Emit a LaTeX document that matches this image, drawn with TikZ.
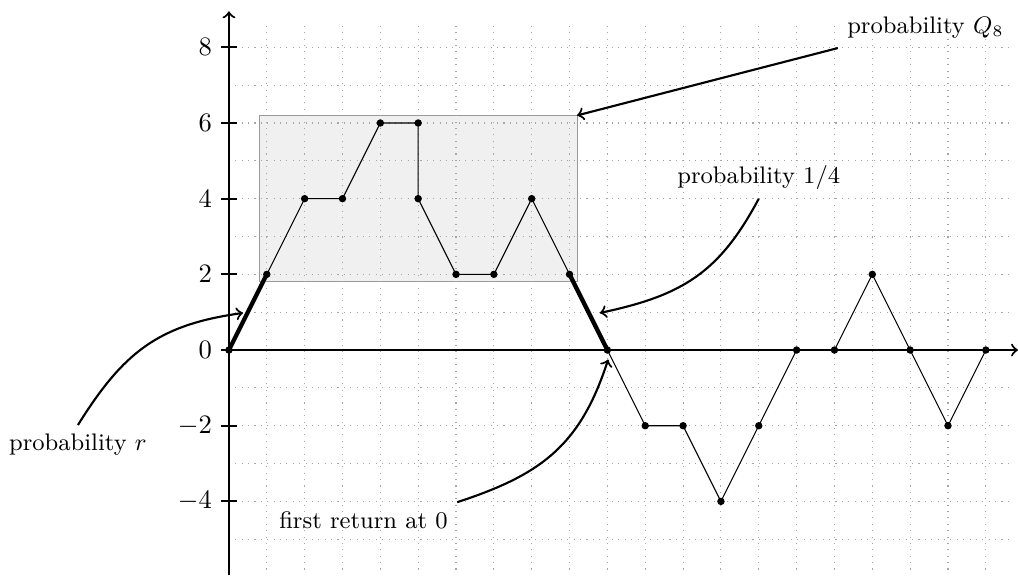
\documentclass[tikz,border=0pt]{standalone}
\begin{document}
\begin{tikzpicture}[x=0.5cm,y=0.5cm,
  lbl/.style={font=\small},
  ann/.style={->,thick},
  gridline/.style={gray!70,dotted,xstep=0.5cm,ystep=0.5cm},
  axisline/.style={->,thick},
  walk/.style={black,line width=0.4pt},
  boldwalk/.style={black,line width=1.6pt},
  shaded/.style={draw=gray!80,fill=gray!12}]
\useasboundingbox (-6.05,-5.95) rectangle (20.85,9.25);
% highlighted box
\draw[shaded] (0.8,1.8) rectangle (9.2,6.2);
\coordinate (boxne) at (9.2,6.2);
% grid
\draw[gridline] (0,-5.8) grid (20.6,8.6);
% axes
\coordinate (o) at (0,0);
\coordinate (xend) at (20.85,0);
\coordinate (ybot) at (0,-5.95);
\coordinate (yend) at (0,8.95);
\draw[axisline] (o) -- (xend);
\draw[axisline] (ybot) -- (yend);
\foreach \y in {-4,-2,0,2,4,6,8}{
  \draw[thick] (-0.2,\y) -- (0.2,\y);
  \node[left] (tick\y) at (-0.2,\y) {$\y$};
}
% walk points
\foreach [count=\i from 0] \a/\b in {0/0,1/2,2/4,3/4,4/6,5/6,5/4,6/2,7/2,8/4,9/2,10/0,11/-2,12/-2,13/-4,14/-2,15/0,16/0,17/2,18/0,19/-2,20/0}
  \coordinate (p\i) at (\a,\b);
\draw[walk] (p1) \foreach \i in {2,...,10}{ -- (p\i) };
\draw[walk] (p11) \foreach \i in {12,...,21}{ -- (p\i) };
\draw[boldwalk] (p0) -- (p1);
\draw[boldwalk] (p10) -- (p11);
\foreach \i in {0,...,21} \fill (p\i) circle (1.4pt);
% annotations
\node[lbl,anchor=south west] (q8) at (16.09,7.98) {probability $Q_8$};
\draw[ann] (q8.south west) -- (boxne);
\node[lbl,anchor=south] (quarter) at (14,4.0) {probability $1/4$};
\coordinate (t1) at (9.8,0.98);
\draw[ann] (quarter.south) to[out=-118,in=12,looseness=1.1] (t1);
\node[lbl,anchor=north] (rr) at (-3.99,-1.98) {probability $r$};
\coordinate (t2) at (0.37,0.98);
\draw[ann] (rr.north) to[out=58,in=188,looseness=1.1] (t2);
\node[lbl,anchor=north east] (fr) at (6.03,-4.02) {first return at 0};
\coordinate (t3) at (10.02,-0.25);
\draw[ann] (fr.north east) to[out=18,in=-108,looseness=1.1] (t3);
\end{tikzpicture}
\end{document}
